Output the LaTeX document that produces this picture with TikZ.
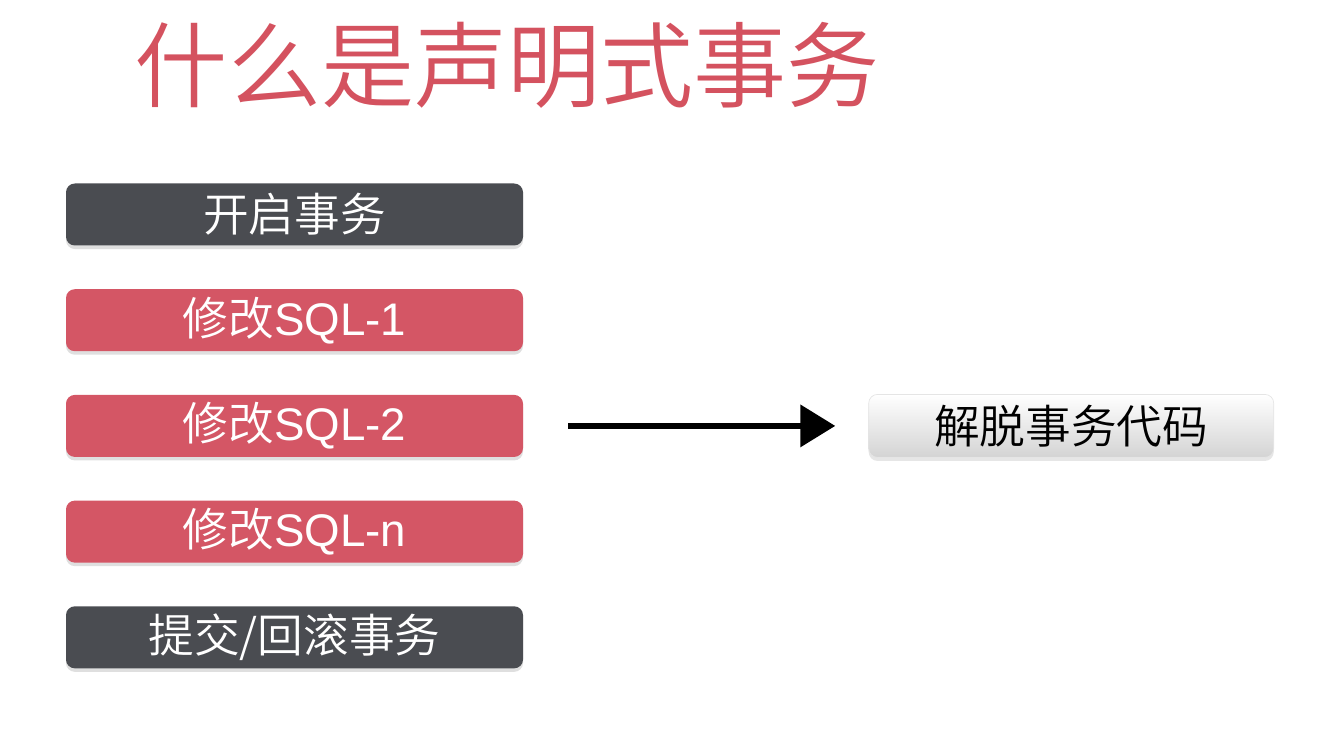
\documentclass[tikz,border=0pt]{standalone}
\usepackage{fontspec}
\setmainfont{Liberation Sans}
\newfontfamily\cjk{Noto Sans CJK SC DemiLight}
\usetikzlibrary{arrows.meta,positioning,shadows}
\definecolor{txred}{HTML}{D4525F}
\definecolor{boxdark}{HTML}{4A4C51}
\definecolor{boxred}{HTML}{D45665}
\tikzset{
  stepbox/.style={rounded corners=5pt, minimum width=9.14cm, minimum height=1.24cm, text=white, font=\cjk\fontsize{26}{30}\selectfont, drop shadow={shadow xshift=0pt, shadow yshift=-2pt, opacity=0.25}},
  darkbox/.style={stepbox, fill=boxdark},
  redbox/.style={stepbox, fill=boxred},
  lightbox/.style={rounded corners=5pt, minimum width=8.1cm, minimum height=1.26cm, top color=white, bottom color=black!17, draw=black!10, font=\cjk\fontsize{26}{30}\selectfont, drop shadow={shadow xshift=0pt, shadow yshift=-2pt, opacity=0.2}},
  bigarrow/.style={-{Triangle[length=0.7cm, width=0.82cm]}, line width=3.8pt, black},
}
\begin{document}
\begin{tikzpicture}[node distance=0.86cm]
    \useasboundingbox (0,0) rectangle (26.54,-14.76);
    \node[text=txred, font=\cjk\fontsize{53}{60}\selectfont] (title) at (10.15,-1.3) {什么是声明式事务};
    \node[darkbox] (begin) at (5.89,-4.29) {开启事务};
    \node[redbox, below=of begin] (sql1) {修改\rmfamily SQL-1};
    \node[redbox, below=of sql1] (sql2) {修改\rmfamily SQL-2};
    \node[redbox, below=of sql2] (sqln) {修改\rmfamily SQL-n};
    \node[darkbox, below=of sqln] (commit) {提交/回滚事务};
    \node[lightbox, right=6.9cm of sql2] (decouple) {解脱事务代码};
    \draw[bigarrow, shorten <=0.9cm, shorten >=0.66cm] (sql2) -- (decouple);
\end{tikzpicture}
\end{document}
